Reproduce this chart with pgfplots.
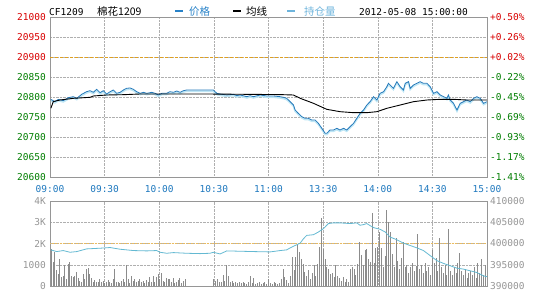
\documentclass[border=0pt]{standalone}
\usepackage{pgfplots}
\pgfplotsset{compat=1.18}
\usepackage{fontspec}
\newfontfamily\mono{DejaVu Sans Mono}
\newfontfamily\cjk{Noto Sans CJK SC}
\definecolor{pricec}{RGB}{35,120,185}
\definecolor{shadowc}{RGB}{190,230,245}
\definecolor{oic}{RGB}{100,185,210}
\definecolor{volc}{RGB}{140,140,140}
\definecolor{gridc}{RGB}{175,175,175}
\definecolor{bordc}{RGB}{150,150,150}
\definecolor{redc}{RGB}{215,0,0}
\definecolor{greenc}{RGB}{0,125,0}
\definecolor{timec}{RGB}{30,120,190}
\definecolor{labgray}{RGB}{150,150,150}
\definecolor{orangec}{RGB}{225,160,30}
\definecolor{legblue}{RGB}{40,130,200}
\definecolor{leglight}{RGB}{110,180,220}
\newcommand{\tf}{\mono\fontsize{9.5}{10}\selectfont}
\pgfplotsset{
  common/.style={scale only axis, width=437pt, xmin=0, xmax=240,
    xtick={0,30,...,240}, major tick length=0pt, scaled ticks=false,
    axis line style={bordc}, ticklabel style={inner sep=0pt, font=\tf},
    grid style={gridc, densely dotted}},
  overlay/.style={common, axis y line*=right, axis x line=none,
    yticklabel style={xshift=3pt}}
}
\begin{document}
\begin{tikzpicture}[x=1pt,y=1pt]
\path[use as bounding box] (0,0) rectangle (540,300);
% header
\node[anchor=west, inner sep=0, font=\tf] at (49,288) {CF1209};
\node[anchor=west, inner sep=0, font=\cjk\fontsize{10.5}{11}\selectfont] at (97,288) {棉花1209};
\draw[legblue, line width=2.5pt] (175,289) -- (183,289);
\node[anchor=west, inner sep=0, font=\cjk\fontsize{10.5}{11}\selectfont, text=legblue] at (189,288) {价格};
\draw[black, line width=2.5pt] (233,289) -- (241,289);
\node[anchor=west, inner sep=0, font=\cjk\fontsize{10.5}{11}\selectfont] at (246,288) {均线};
\draw[leglight, line width=2.5pt] (287,289) -- (295,289);
\node[anchor=west, inner sep=0, font=\cjk\fontsize{10.5}{11}\selectfont, text=leglight] at (304,288) {持仓量};
\node[anchor=west, inner sep=0, font=\tf] at (359,288) {2012-05-08 15:00:00};

% ===== top panel =====
\begin{axis}[common, at={(50pt,123pt)}, anchor=south west, height=160pt,
  ymin=20600, ymax=21000, ytick={20600,20650,...,21000},
  yticklabels={\textcolor{greenc}{20600},\textcolor{greenc}{20650},\textcolor{greenc}{20700},\textcolor{greenc}{20750},\textcolor{greenc}{20800},\textcolor{greenc}{20850},\textcolor{redc}{20900},\textcolor{redc}{20950},\textcolor{redc}{21000}},
  xticklabels={09:00,09:30,10:00,10:30,11:00,13:30,14:00,14:30,15:00},
  xticklabel style={text=timec, yshift=-8pt}, yticklabel style={xshift=-4pt},
  xmajorgrids, ymajorgrids]
\addplot[orangec, line width=0.9pt, dash pattern=on 3pt off 2pt] coordinates {(0,20900) (240,20900)};
\addplot[shadowc, line width=1.6pt, yshift=-1.3pt] coordinates {
(0.5,20794) (2.7,20788.5) (4.6,20794) (7.3,20791) (10.1,20798.3) (12.8,20800.8) (14.7,20796.7) (17.4,20806.7) (20.1,20813.3) (22,20815.8) (23.8,20811.7) (25.6,20819.2) (27.5,20810.8) (29.3,20815.8) (31.1,20807.5) (33,20813.3) (34.8,20817.5) (36.6,20809.2) (38.5,20811.7) (40.3,20817.5) (42.1,20821.7) (44,20822.5) (45.8,20819.2) (47.6,20813.3) (49.5,20809.2) (51.3,20811.7) (53.1,20809.2) (55.9,20811.7) (57.7,20809.2) (59.5,20805) (61.4,20809.2) (64.1,20809.2) (65.9,20813.3) (67.8,20811.7) (69.6,20815) (71.4,20811.7) (73.3,20815.8) (75.1,20817.5) (89.7,20817.5) (91.6,20809.2) (93.4,20807.5) (97.1,20805) (100.7,20806.7) (102.6,20803.3) (104.4,20805) (108.1,20800.8) (109.9,20803.3) (111.7,20800.8) (115.4,20805) (119.1,20802.5) (122.7,20802.5) (126.4,20800.8) (128.2,20799.2) (130,20796.7) (131.9,20788.3) (133.7,20780) (134.6,20767.5) (136.4,20759.2) (138.3,20750.8) (140.1,20746.7) (141.9,20746.7) (143.8,20742.5) (145.6,20742.5) (147.4,20734.2) (149.3,20721.7) (151.1,20709.2) (152,20709.2) (153.8,20717.5) (155.7,20717.5) (157.5,20721.7) (159.3,20717.5) (161.2,20721.7) (163,20717.5) (164.8,20725.8) (166.7,20734.2) (168.5,20746.7) (170.3,20759.2) (172.2,20767.5) (174,20780) (175.8,20788.3) (177.7,20800.8) (179.5,20792.5) (181.3,20809.2) (183.2,20813.3) (185,20825.8) (185.9,20834.2) (186.8,20830) (188.6,20821.7) (190.5,20838.3) (192.3,20825.8) (194.1,20817.5) (195.1,20834.2) (196.9,20838.3) (197.8,20821.7) (199.6,20830) (201.5,20834.2) (203.3,20838.3) (205.1,20834.2) (207,20834.2) (208.8,20825.8) (210.6,20809.2) (212.5,20813.3) (214.3,20805) (216.1,20800.8) (218,20796.7) (218.8,20805) (219.8,20792.5) (221.6,20784.2) (223.5,20767.5) (225.3,20784.2) (227.1,20788.3) (228.9,20792.5) (230.8,20788.3) (232.6,20796.7) (234.4,20800.8) (236.3,20796.7) (238.1,20784.2) (239.9,20788.3)};
\addplot[pricec, line width=0.8pt] coordinates {
(0.5,20794) (2.7,20788.5) (4.6,20794) (7.3,20791) (10.1,20798.3) (12.8,20800.8) (14.7,20796.7) (17.4,20806.7) (20.1,20813.3) (22,20815.8) (23.8,20811.7) (25.6,20819.2) (27.5,20810.8) (29.3,20815.8) (31.1,20807.5) (33,20813.3) (34.8,20817.5) (36.6,20809.2) (38.5,20811.7) (40.3,20817.5) (42.1,20821.7) (44,20822.5) (45.8,20819.2) (47.6,20813.3) (49.5,20809.2) (51.3,20811.7) (53.1,20809.2) (55.9,20811.7) (57.7,20809.2) (59.5,20805) (61.4,20809.2) (64.1,20809.2) (65.9,20813.3) (67.8,20811.7) (69.6,20815) (71.4,20811.7) (73.3,20815.8) (75.1,20817.5) (89.7,20817.5) (91.6,20809.2) (93.4,20807.5) (97.1,20805) (100.7,20806.7) (102.6,20803.3) (104.4,20805) (108.1,20800.8) (109.9,20803.3) (111.7,20800.8) (115.4,20805) (119.1,20802.5) (122.7,20802.5) (126.4,20800.8) (128.2,20799.2) (130,20796.7) (131.9,20788.3) (133.7,20780) (134.6,20767.5) (136.4,20759.2) (138.3,20750.8) (140.1,20746.7) (141.9,20746.7) (143.8,20742.5) (145.6,20742.5) (147.4,20734.2) (149.3,20721.7) (151.1,20709.2) (152,20709.2) (153.8,20717.5) (155.7,20717.5) (157.5,20721.7) (159.3,20717.5) (161.2,20721.7) (163,20717.5) (164.8,20725.8) (166.7,20734.2) (168.5,20746.7) (170.3,20759.2) (172.2,20767.5) (174,20780) (175.8,20788.3) (177.7,20800.8) (179.5,20792.5) (181.3,20809.2) (183.2,20813.3) (185,20825.8) (185.9,20834.2) (186.8,20830) (188.6,20821.7) (190.5,20838.3) (192.3,20825.8) (194.1,20817.5) (195.1,20834.2) (196.9,20838.3) (197.8,20821.7) (199.6,20830) (201.5,20834.2) (203.3,20838.3) (205.1,20834.2) (207,20834.2) (208.8,20825.8) (210.6,20809.2) (212.5,20813.3) (214.3,20805) (216.1,20800.8) (218,20796.7) (218.8,20805) (219.8,20792.5) (221.6,20784.2) (223.5,20767.5) (225.3,20784.2) (227.1,20788.3) (228.9,20792.5) (230.8,20788.3) (232.6,20796.7) (234.4,20800.8) (236.3,20796.7) (238.1,20784.2) (239.9,20788.3)};
\addplot[black, line width=0.9pt] coordinates {
(0.5,20772) (1.8,20788.5) (5.5,20792.5) (12.8,20796.7) (22,20799.2) (23.8,20802.5) (31.1,20805) (40.3,20805.8) (49.5,20807.5) (86.1,20807.5) (126.4,20806) (133.7,20805) (137.4,20796.7) (144.7,20784.2) (152,20769.2) (159.3,20763.3) (166.7,20760.8) (174,20760.8) (179.5,20763.3) (185,20771.7) (192.3,20780) (199.6,20788.3) (207,20792.5) (214.3,20794.2) (221.6,20794.2) (228.9,20792.5) (240,20792.5)};
\end{axis}
\begin{axis}[overlay, at={(50pt,123pt)}, anchor=south west, height=160pt,
  ymin=20600, ymax=21000, ytick={20600,20650,...,21000},
  yticklabels={\textcolor{greenc}{-1.41\%},\textcolor{greenc}{-1.17\%},\textcolor{greenc}{-0.93\%},\textcolor{greenc}{-0.69\%},\textcolor{greenc}{-0.45\%},\textcolor{greenc}{-0.22\%},\textcolor{redc}{+0.02\%},\textcolor{redc}{+0.26\%},\textcolor{redc}{+0.50\%}}]
\addplot[draw=none] coordinates {(0,20800)};
\end{axis}

% ===== bottom panel =====
\begin{axis}[common, at={(50pt,14pt)}, anchor=south west, height=85pt,
  ymin=0, ymax=4000, ytick={0,1000,2000,3000,4000},
  yticklabels={0,1000,2K,3K,4K}, xticklabels={},
  yticklabel style={xshift=-4pt, text=labgray},
  xmajorgrids, ymajorgrids]
\addplot[orangec!70!white, line width=0.6pt, densely dotted] coordinates {(0,2000) (240,2000)};
\addplot[ycomb, volc, line width=0.9pt] coordinates {
(0.73,1760) (1.65,1130) (2.56,1600) (3.48,730) (4.40,570) (5.31,1290) (6.23,410) (7.14,490) (8.06,970) (8.97,330) (9.89,1050) (10.81,1130) (11.72,490) (12.64,410) (13.55,460) (14.47,650) (15.38,370) (16.30,250) (17.22,210) (18.13,570) (19.05,330) (19.96,780) (20.88,840) (21.79,570) (22.71,370) (23.63,175) (24.54,300) (25.46,175) (26.37,210) (27.29,330) (28.21,175) (29.12,250) (30.04,140) (30.95,175) (31.87,300) (32.78,210) (33.70,140) (34.62,330) (35.53,780) (36.45,175) (37.36,210) (38.28,140) (39.19,250) (40.11,330) (41.03,175) (41.94,970) (42.86,330) (43.77,140) (44.69,490) (45.60,250) (46.52,330) (47.44,175) (48.35,250) (49.27,330) (50.18,175) (51.10,250) (52.01,140) (52.93,300) (53.85,210) (54.76,410) (55.68,175) (56.59,490) (57.51,210) (58.42,410) (59.34,570) (60.26,330) (61.17,620) (62.09,250) (63.00,175) (63.92,370) (64.84,330) (65.75,330) (66.67,175) (67.58,370) (68.50,140) (69.5,200) (70.5,300) (71.3,400) (72.3,150) (73.2,250) (74.2,350)
(90,330) (91,250) (92,330) (93,210) (94,175) (95,520) (96,250) (97,1000) (98,490) (99,175) (100,250) (101,140) (102,210) (103,140) (104,175) (105,140) (106,175) (107,140) (108,95) (109,175) (110,460) (111,140) (112,370) (113,95) (114,140) (115,175) (116,95) (117,140) (118,175) (119,95) (120,330) (121,140) (122,95) (123,175) (124,140) (125,95) (126,140) (127,330) (128,810) (129,410) (130,300) (131,140) (132,460) (133,1370) (134,730) (135,1370) (136,2000) (137,1600) (138,1290) (139,1050) (140,650) (141,460) (142,730) (143,330) (144,620) (145,970) (146,490) (147,1050) (148,1840) (149,3200) (150,1760) (151,1290) (152,890) (153,810) (154,570) (155,620) (156,410) (157,970)
(158,490) (159,370) (160,250) (161,410) (162,210) (163,330) (164,175) (165,810) (166,890) (167,780) (168,520) (169,1050) (170,2080) (171,1450) (172,970) (173,1690) (174,1730) (175,1290) (176,1130) (177,3430) (178,1100) (179,1800) (180,1850) (181,2550) (182,1800) (183,900) (184,1400) (185,3580) (186,3030) (187,2560) (188,1500) (189,900) (190,2240) (191,1200) (192,800) (193,1300) (194,2070) (195,900) (196,1000) (197,600) (198,900) (199,1100) (200,700) (201,950) (202,2470) (203,800) (204,1000) (205,600) (206,1100) (207,700) (208,900) (209,500) (210,1700) (211,1100) (212,1300) (213,700) (214,2270) (215,900) (216,600) (217,1000) (218,500) (219,2680) (220,700) (221,500) (222,900) (223,600) (224,1100) (225,1530) (226,700) (227,500) (228,800) (229,400) (230,600) (231,700) (232,500) (233,900) (234,400) (235,1100) (236,600) (237,1250) (238,500) (239,1000) (240,1750)};
\end{axis}
\begin{axis}[overlay, at={(50pt,14pt)}, anchor=south west, height=85pt,
  ymin=390000, ymax=410000, ytick={390000,395000,400000,405000,410000},
  yticklabels={390000,395000,400000,405000,410000},
  yticklabel style={text=labgray}]
\addplot[oic, line width=0.8pt] coordinates {
(0.4,398500) (3.7,398100) (7.3,398340) (11,397940) (14.7,398100) (20.1,398730) (27.5,398890) (33,399050) (38.5,398650) (45.8,398340) (53.1,398260) (58.6,398340) (60.4,397940) (64.1,397700) (67.8,397860) (75.1,397700) (82.4,397620) (87.9,397700) (89.7,397940) (93.4,397540) (97.1,398260) (104.4,398180) (111.7,398100) (120.9,398020) (126.4,398340) (130,398500) (131.9,398970) (134.6,399530) (137.4,400080) (139.2,401120) (141,401910) (144.7,402070) (147.4,402700) (150.2,403500) (152.9,404690) (155.7,404850) (159.3,404850) (164.8,404690) (168.5,404850) (170.3,404290) (172.2,404450) (174,404690) (175.8,404210) (177.7,403740) (181.3,403340) (184.1,402700) (186.8,401510) (190.5,400880) (194.1,400080) (197.8,399530) (201.5,398970) (205.1,398340) (208.8,397150) (212.5,395960) (216.1,395320) (219.8,394760) (223.4,394210) (227.1,393970) (230.8,393570) (234.4,393180) (238.1,392380) (240,392200)};
\end{axis}
\end{tikzpicture}
\end{document}
